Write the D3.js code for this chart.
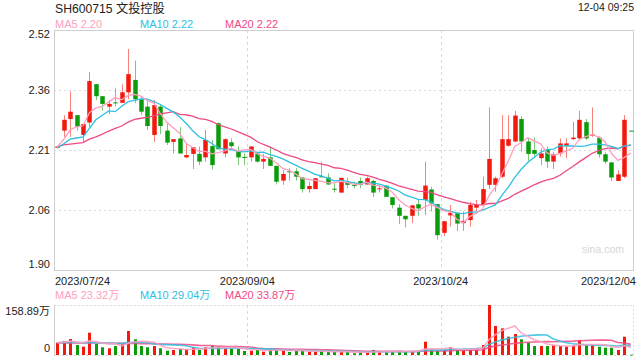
<!DOCTYPE html>
<html><head><meta charset="utf-8">
<script src="https://cdn.jsdelivr.net/npm/d3@7"></script>
<style>html,body{margin:0;padding:0;background:#fff;}svg{display:block;font-family:"Liberation Sans",Arial,"Noto Sans CJK SC",sans-serif;}</style>
</head><body><svg id="c" width="640" height="360"></svg>
<script>
const stockTitle = "SH600715 文投控股";
const timeStamp = "12-04 09:25";
const watermark = "sina.com";
const xTickLabels = ["2023/07/24", "2023/09/04", "2023/10/24", "2023/12/04"];
const xTickSlots = [0, 30, 60, 89];
const priceTickLabels = ["2.52", "2.36", "2.21", "2.06", "1.90"];
const priceMin = 1.90, priceMax = 2.52;
const volTickLabels = ["158.89万", "0"];
const volMax = 158.89;
const priceLegend = [["MA5", "2.20"], ["MA10", "2.22"], ["MA20", "2.22"]];
const volLegend = [["MA5", "23.32万"], ["MA10", "29.04万"], ["MA20", "33.87万"]];

const opens = [2.216,2.26,2.29,2.30,2.249,2.281,2.380,2.349,2.322,2.333,
  2.332,2.359,2.391,2.341,2.322,2.249,2.322,2.260,2.231,2.240,
  2.191,2.200,2.200,2.191,2.220,2.279,2.201,2.230,2.208,2.192,
  2.191,2.201,2.180,2.191,2.169,2.131,2.155,2.155,2.139,2.109,
  2.109,2.142,2.139,2.110,2.100,2.127,2.120,2.130,2.121,2.130,
  2.109,2.118,2.088,2.061,2.040,2.040,2.070,2.081,2.108,2.070,
  1.996,2.041,2.048,2.021,2.029,2.061,2.068,2.120,2.120,2.141,
  2.221,2.232,2.290,2.232,2.210,2.189,2.210,2.180,2.201,2.221,
  2.238,2.240,2.282,2.247,2.242,2.199,2.178,2.130,2.141,2.260];
const highs = [2.221,2.30,2.361,2.30,2.277,2.411,2.380,2.349,2.339,2.369,
  2.380,2.471,2.441,2.349,2.339,2.339,2.329,2.281,2.238,2.269,
  2.227,2.217,2.219,2.262,2.236,2.281,2.240,2.240,2.220,2.201,
  2.220,2.203,2.200,2.219,2.169,2.158,2.163,2.163,2.139,2.128,
  2.137,2.180,2.150,2.124,2.139,2.139,2.128,2.139,2.141,2.133,
  2.120,2.118,2.088,2.070,2.040,2.068,2.081,2.180,2.115,2.070,
  2.026,2.068,2.048,2.051,2.076,2.081,2.141,2.320,2.141,2.300,
  2.300,2.311,2.298,2.242,2.242,2.214,2.219,2.204,2.240,2.240,
  2.283,2.311,2.290,2.320,2.245,2.204,2.178,2.158,2.300,2.260];
const lows = [2.214,2.244,2.244,2.26,2.231,2.269,2.339,2.312,2.303,2.322,
  2.331,2.341,2.331,2.300,2.262,2.231,2.251,2.223,2.201,2.201,
  2.189,2.161,2.171,2.180,2.160,2.212,2.191,2.214,2.171,2.171,
  2.180,2.177,2.161,2.169,2.121,2.120,2.131,2.131,2.100,2.100,
  2.109,2.139,2.120,2.100,2.100,2.111,2.111,2.111,2.120,2.089,
  2.100,2.089,2.059,2.019,2.010,2.021,2.040,2.042,2.051,1.979,
  1.988,2.012,2.001,2.001,2.012,2.052,2.068,2.109,2.102,2.137,
  2.219,2.230,2.206,2.182,2.190,2.171,2.163,2.161,2.193,2.189,
  2.236,2.238,2.236,2.244,2.190,2.174,2.130,2.130,2.137,2.259];
const closes = [2.219,2.288,2.309,2.27,2.277,2.388,2.349,2.329,2.329,2.332,
  2.359,2.406,2.341,2.309,2.272,2.326,2.272,2.229,2.238,2.201,
  2.197,2.217,2.180,2.236,2.171,2.212,2.238,2.220,2.191,2.191,
  2.219,2.180,2.187,2.169,2.128,2.148,2.154,2.141,2.109,2.117,
  2.137,2.141,2.121,2.109,2.138,2.120,2.119,2.120,2.137,2.100,
  2.111,2.089,2.068,2.040,2.031,2.067,2.059,2.118,2.072,1.990,
  2.026,2.048,2.020,2.027,2.068,2.068,2.109,2.187,2.137,2.238,
  2.238,2.299,2.232,2.200,2.200,2.201,2.180,2.199,2.227,2.227,
  2.242,2.288,2.240,2.250,2.199,2.180,2.139,2.147,2.288,2.259];
const volumes = [39.1,44.5,50.8,31.8,26.4,70.9,35.0,24.5,21.3,28.6,
  34.0,76.3,49.9,28.6,24.5,28.6,21.3,13.7,15.9,19.1,
  18.1,24.5,15.9,24.5,28.6,26.4,21.3,21.3,19.1,12.7,
  13.7,15.9,10.5,18.1,18.1,15.9,9.5,15.9,13.7,10.5,
  10.5,12.7,9.5,10.5,10.5,10.5,5.4,9.5,7.3,15.9,
  10.5,10.5,10.5,13.7,10.5,12.7,13.7,42.3,18.1,13.7,
  15.9,24.5,18.1,15.9,18.1,21.3,31.8,158.89,92.2,84.8,
  58.2,66.7,49.9,39.1,28.6,28.6,28.6,31.8,28.6,26.4,
  29.6,47.7,31.8,31.8,26.4,23.2,23.2,15.9,58.2,1.0];

// moving-average values at the start of the window (history before the chart)
const priceMa5Lead = [2.218, 2.237, 2.262, 2.270];
const priceMa10Lead = [2.215, 2.226, 2.238, 2.241, 2.244, 2.266, 2.288, 2.300, 2.311];
const priceMa20Lead = [2.218, 2.223, 2.225, 2.227, 2.229, 2.238, 2.244, 2.251, 2.259, 2.266,
  2.272, 2.282, 2.289, 2.292, 2.294, 2.298, 2.303, 2.306, 2.309];
const volMa5Lead = [39, 41, 44, 41];
const volMa10Lead = [39, 40, 41, 40, 39, 40, 39, 38, 37];
const volMa20Lead = [38, 38, 38, 38, 38, 38, 38, 38, 37, 37, 37, 37, 37, 36, 36, 36, 35, 35, 34];

const colUp = "#f2190d", colDown = "#0b9c0b";
const colMa = ["#ff9ebf", "#2fc0e2", "#ef4a86"];

function movingAvg(vals, n, lead) {
  return vals.map((v, i) => i < n - 1 ? lead[i] : d3.mean(vals.slice(i - n + 1, i + 1)));
}

const svg = d3.select("#c");
const L = 54, R = 634, pTop = 30, pBot = 270, vTop = 305, vBot = 355;
const N = closes.length;
const x = d3.scaleBand().domain(d3.range(N)).range([L, R]).padding(0);
const bw = x.bandwidth();
const cx = i => x(i) + bw / 2;
const y = d3.scaleLinear().domain([priceMin, priceMax]).range([pBot, pTop]);
const yv = d3.scaleLinear().domain([0, volMax]).range([vBot, vTop]);

// title & time
svg.append("text").attr("x", 55).attr("y", 13).attr("font-size", 12.2).attr("fill", "#222").text(stockTitle);
svg.append("text").attr("x", 634).attr("y", 11).attr("text-anchor", "end").attr("font-size", 10.5).attr("fill", "#222").text(timeStamp);

// legends
const legX = [55, 140, 225];
function legend(items, yy) {
  items.forEach((d, k) => svg.append("text").attr("x", legX[k]).attr("y", yy).attr("font-size", 11)
    .attr("fill", colMa[k]).text(d[0] + " " + d[1]));
}
legend(priceLegend, 28);
legend(volLegend, 299);

// price grid
const gridCol = "#d9d9d9";
const pticks = d3.range(priceTickLabels.length).map(k => priceMax - k * (priceMax - priceMin) / (priceTickLabels.length - 1));
svg.append("g").selectAll("line").data(pticks.slice(1, -1)).join("line")
  .attr("x1", L).attr("x2", R).attr("y1", d => Math.round(y(d)) + 0.5).attr("y2", d => Math.round(y(d)) + 0.5)
  .attr("stroke", gridCol).attr("stroke-dasharray", "2,3");
const vgrid = xTickSlots.slice(1, -1);
svg.append("g").selectAll("line").data(vgrid).join("line")
  .attr("x1", d => Math.round(x(d)) + 0.5).attr("x2", d => Math.round(x(d)) + 0.5).attr("y1", pTop).attr("y2", pBot)
  .attr("stroke", gridCol).attr("stroke-dasharray", "3,3");
svg.append("rect").attr("x", L + 0.5).attr("y", pTop + 0.5).attr("width", R - L - 1).attr("height", pBot - pTop)
  .attr("fill", "none").attr("stroke", "#cfcfcf");

// price labels
svg.append("g").selectAll("text").data(pticks).join("text")
  .attr("x", 50).attr("text-anchor", "end").attr("font-size", 11).attr("fill", "#222")
  .attr("y", (d, k) => k === 0 ? y(d) + 7.8 : (k === pticks.length - 1 ? y(d) - 2 : y(d) + 4))
  .text((d, k) => priceTickLabels[k]);

// x labels
svg.append("g").selectAll("text").data(xTickSlots).join("text")
  .attr("font-size", 11).attr("fill", "#222").attr("y", 285)
  .attr("x", (d, k) => k === 0 ? L + 1 : (k === xTickSlots.length - 1 ? R + 2 : x(d)))
  .attr("text-anchor", (d, k) => k === 0 ? "start" : (k === xTickSlots.length - 1 ? "end" : "middle"))
  .text((d, k) => xTickLabels[k]);

svg.append("text").attr("x", 624).attr("y", 253).attr("text-anchor", "end").attr("font-size", 10.5)
  .attr("fill", "#d6d6d6").text(watermark);

// candles
const idx = d3.range(N);
const isUp = i => closes[i] >= opens[i];
const cg = svg.append("g");
cg.selectAll("line.w").data(idx).join("line").attr("class", "w")
  .attr("x1", i => Math.round(cx(i)) + 0.5).attr("x2", i => Math.round(cx(i)) + 0.5)
  .attr("y1", i => y(highs[i])).attr("y2", i => y(lows[i]))
  .attr("stroke", i => isUp(i) ? colUp : colDown).attr("stroke-opacity", 0.55);
const bodyW = bw * 0.7;
cg.selectAll("rect").data(idx).join("rect")
  .attr("x", i => Math.round(cx(i)) + 0.5 - bodyW / 2).attr("width", bodyW)
  .attr("y", i => y(Math.max(opens[i], closes[i])))
  .attr("height", i => Math.max(1, Math.abs(y(opens[i]) - y(closes[i]))))
  .attr("fill", i => isUp(i) ? colUp : colDown);

// MA lines (price)
const pMa = [movingAvg(closes, 5, priceMa5Lead), movingAvg(closes, 10, priceMa10Lead), movingAvg(closes, 20, priceMa20Lead)];
const line = d3.line().x((d, i) => cx(i)).y(d => y(d));
[2, 1, 0].forEach(k => svg.append("path").attr("d", line(pMa[k])).attr("fill", "none")
  .attr("stroke", colMa[k]).attr("stroke-width", 1.3));

// volume panel
svg.append("g").selectAll("line").data(vgrid).join("line")
  .attr("x1", d => Math.round(x(d)) + 0.5).attr("x2", d => Math.round(x(d)) + 0.5).attr("y1", vTop).attr("y2", vBot)
  .attr("stroke", gridCol).attr("stroke-dasharray", "3,3");
svg.append("line").attr("x1", L).attr("x2", R).attr("y1", vTop + 0.5).attr("y2", vTop + 0.5)
  .attr("stroke", gridCol).attr("stroke-dasharray", "2,2");
svg.append("line").attr("x1", L).attr("x2", R).attr("y1", vBot + 0.5).attr("y2", vBot + 0.5)
  .attr("stroke", gridCol).attr("stroke-dasharray", "2,2");
svg.append("line").attr("x1", R - 0.5).attr("x2", R - 0.5).attr("y1", vTop).attr("y2", vBot)
  .attr("stroke", gridCol).attr("stroke-dasharray", "2,2");
svg.append("line").attr("x1", L + 0.5).attr("x2", L + 0.5).attr("y1", vTop).attr("y2", vBot + 1)
  .attr("stroke", "#cfcfcf");

svg.append("g").selectAll("rect").data(idx).join("rect")
  .attr("x", i => Math.round(cx(i)) - 1).attr("width", 3)
  .attr("y", i => yv(volumes[i])).attr("height", i => Math.max(0.8, vBot - yv(volumes[i])))
  .attr("fill", i => isUp(i) ? colUp : colDown);

const vMa = [movingAvg(volumes, 5, volMa5Lead), movingAvg(volumes, 10, volMa10Lead), movingAvg(volumes, 20, volMa20Lead)];
const vline = d3.line().x((d, i) => cx(i)).y(d => yv(d));
[2, 1, 0].forEach(k => svg.append("path").attr("d", vline(vMa[k])).attr("fill", "none")
  .attr("stroke", colMa[k]).attr("stroke-width", 1.6).attr("stroke-opacity", 0.85));

svg.append("text").attr("x", 50).attr("y", 315).attr("text-anchor", "end").attr("font-size", 11).attr("fill", "#222").text(volTickLabels[0]);
svg.append("text").attr("x", 50).attr("y", 352).attr("text-anchor", "end").attr("font-size", 11).attr("fill", "#222").text(volTickLabels[1]);
</script></body></html>
